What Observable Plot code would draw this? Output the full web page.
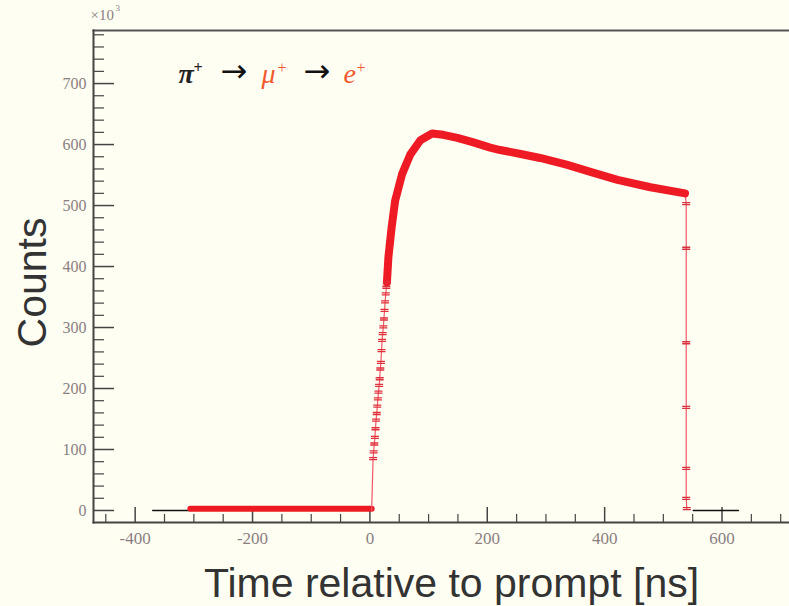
<!DOCTYPE html>
<html><head><meta charset="utf-8">
<script src="https://cdn.jsdelivr.net/npm/d3@7"></script>
<script src="https://cdn.jsdelivr.net/npm/@observablehq/plot@0.6"></script>
<style>html,body{margin:0;padding:0;background:#fffef2;overflow:hidden}</style>
</head><body><div id="chart"></div>
<script>
// ---- data ----
const flatT = [-306, 3];
const flatV = [3, 3];
const blackT = [-370, -306, 551, 628];
const blackV = [0, 0, 0, 0];
const blackSeg = ["left", "left", "right", "right"];
const riseT = [5.4, 6.4, 7.4, 8.5, 9.5, 10.5, 11.6, 12.6, 13.6, 14.6, 15.7, 16.7, 17.7, 18.7, 19.8, 20.8, 21.8, 22.9, 23.9, 24.9, 25.9, 27.0, 28.0, 29.0];
const riseV = [85, 96, 109, 120, 134, 148, 159, 171, 183, 194, 205, 216, 232, 243, 262, 279, 290, 301, 314, 328, 342, 355, 366, 374];
const bandT = [29, 31.5, 37, 43, 55, 69, 86, 106, 125, 149, 175, 205, 222, 255, 290, 335, 380, 422, 478, 537];
const bandV = [374, 415, 464, 508, 552, 584, 607, 618, 616, 611, 604, 595, 591, 585, 578, 567, 554, 542, 530, 520];
const dropT = [539, 539, 539, 539, 539, 539, 540];
const dropV = [503, 430, 275, 169, 69, 20, 3];
const xMajor = [-400, -200, 0, 200, 400, 600];
const xMinor = [-450, -350, -300, -250, -150, -100, -50, 50, 100, 150, 250, 300, 350, 450, 500, 550, 650, 700];
const yMajor = [0, 100, 200, 300, 400, 500, 600, 700];
const yMinor = [20, 40, 60, 80, 120, 140, 160, 180, 220, 240, 260, 280, 320, 340, 360, 380, 420, 440, 460, 480, 520, 540, 560, 580, 620, 640, 660, 680, 720, 740, 760, 780];

const zip = (T, V) => T.map((t, i) => ({t, v: V[i]}));
const flat = zip(flatT, flatV);
const black = blackT.map((t, i) => ({t, v: blackV[i], s: blackSeg[i]}));
const rise = zip(riseT, riseV);
const band = zip(bandT, bandV);
const drop = zip(dropT, dropV);
const thinPath = [{t: 3, v: 0}, ...rise, ...band, ...drop];

const dash = {draw(ctx, size) { const w = Math.sqrt(size / Math.PI); ctx.moveTo(-w, -1); ctx.lineTo(w, -1); ctx.moveTo(-w, 1); ctx.lineTo(w, 1); }};

const tickCol = "#444";
const labCol = "#8a7f80";
const serif = "Liberation Serif";
const orange = "#f05a2e";
const tl = {frameAnchor: "top-left", textAnchor: "start", lineAnchor: "bottom", fontFamily: serif};

const chart = Plot.plot({
  width: 789, height: 606,
  marginLeft: 93, marginTop: 30, marginBottom: 84, marginRight: 0,
  style: {background: "#fffef2", overflow: "visible"},
  x: {domain: [-471, 715], label: null},
  y: {domain: [-19.7, 787], label: null},
  marks: [
    Plot.frame({anchor: "top", stroke: "#555", strokeWidth: 2}),
    Plot.frame({anchor: "left", stroke: "#444", strokeWidth: 2}),
    Plot.frame({anchor: "bottom", stroke: "#444", strokeWidth: 2}),
    Plot.axisX({ticks: xMajor, tickSize: -15, tickFormat: () => "", stroke: tickCol, strokeWidth: 1.5, label: null}),
    Plot.axisX({ticks: xMinor, tickSize: -8, tickFormat: () => "", stroke: tickCol, strokeWidth: 1.2, label: null}),
    Plot.axisX({ticks: xMajor, tickSize: 0, tickPadding: 9, tickFormat: d => String(d), fontSize: 17, fontFamily: serif, fill: labCol, label: null}),
    Plot.axisY({ticks: yMajor, tickSize: -21, tickFormat: () => "", stroke: tickCol, strokeWidth: 1.5, label: null}),
    Plot.axisY({ticks: yMinor, tickSize: -11, tickFormat: () => "", stroke: tickCol, strokeWidth: 1.2, label: null}),
    Plot.axisY({ticks: yMajor, tickSize: 0, tickPadding: 7, tickFormat: d => String(d), fontSize: 16, fontFamily: serif, fill: labCol, label: null}),
    Plot.line(black, {x: "t", y: "v", z: "s", stroke: "#111", strokeWidth: 1.5}),
    Plot.line(flat, {x: "t", y: "v", stroke: "#ee1a22", strokeWidth: 6}),
    Plot.line(thinPath, {x: "t", y: "v", stroke: "#f05868", strokeWidth: 1.2}),
    Plot.line(band, {x: "t", y: "v", stroke: "#ee1a24", strokeWidth: 8, strokeLinecap: "round"}),
    Plot.dot(rise, {x: "t", y: "v", symbol: dash, r: 4, fill: "none", stroke: "#e0303c", strokeWidth: 1.3}),
    Plot.dot(drop, {x: "t", y: "v", symbol: dash, r: 4, fill: "none", stroke: "#d8303c", strokeWidth: 1.3}),
    Plot.text(["×10"], {...tl, dx: -3, dy: -11, fontSize: 15, fill: labCol}),
    Plot.text(["3"], {...tl, dx: 22, dy: -20, fontSize: 9, fill: labCol}),
    Plot.text(["π"], {...tl, dx: 85, dy: 52, fontSize: 28, fontStyle: "italic", fontWeight: "bold", fill: "#222"}),
    Plot.text(["+"], {...tl, dx: 100, dy: 42, fontSize: 16, fontWeight: "bold", fill: "#222"}),
    Plot.text(["→"], {...tl, dx: 127, dy: 51, fontSize: 32, fontFamily: "DejaVu Sans", fill: "#111"}),
    Plot.text(["μ"], {...tl, dx: 168, dy: 52, fontSize: 28, fontStyle: "italic", fill: orange}),
    Plot.text(["+"], {...tl, dx: 184, dy: 42, fontSize: 16, fill: orange}),
    Plot.text(["→"], {...tl, dx: 210, dy: 51, fontSize: 32, fontFamily: "DejaVu Sans", fill: "#111"}),
    Plot.text(["e"], {...tl, dx: 250, dy: 52, fontSize: 28, fontStyle: "italic", fill: orange}),
    Plot.text(["+"], {...tl, dx: 263, dy: 42, fontSize: 16, fill: orange}),
    Plot.text(["Time relative to prompt [ns]"], {frameAnchor: "bottom", dx: 10, dy: 74, textAnchor: "middle", lineAnchor: "bottom", fontSize: 41, fontFamily: "Liberation Sans", fill: "#333"}),
    Plot.text(["Counts"], {frameAnchor: "left", dx: -48, dy: 6, rotate: -90, textAnchor: "middle", lineAnchor: "bottom", fontSize: 41, fontFamily: "Liberation Sans", fill: "#333"})
  ]
});
document.getElementById("chart").appendChild(chart);
</script>
</body></html>
